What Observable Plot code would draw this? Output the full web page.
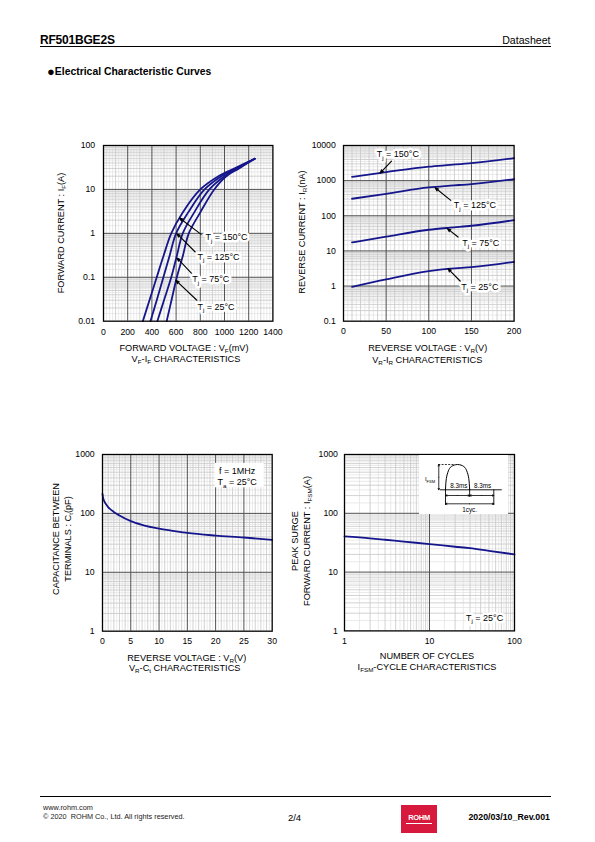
<!DOCTYPE html>
<html><head><meta charset="utf-8">
<script src="https://cdn.jsdelivr.net/npm/d3@7"></script>
<script src="https://cdn.jsdelivr.net/npm/@observablehq/plot@0.6"></script>
<style>
body{margin:0;background:#fff;}
#page{position:relative;width:595px;height:842px;font-family:"Liberation Sans",Arial,sans-serif;color:#000;overflow:hidden;background:#fff;}
.t{position:absolute;white-space:nowrap;line-height:1;}
.c{transform:translate(-50%,-50%);}
.lc{transform:translate(0,-50%);}
.rc{transform:translate(-100%,-50%);}
.rot{transform:translate(-50%,-50%) rotate(-90deg);}
sub{font-size:0.68em;vertical-align:-0.28em;line-height:0;}
.ax{font-size:9.2px;}
</style></head><body><div id="page"></div>
<script>
// ---------------- data ----------------
// VF-IF characteristics (forward current in A, forward voltage in mV per temperature)
const fwdCurrent = [0.01, 0.03, 0.1, 0.3, 1, 3, 10, 20, 30, 50];
const fwdV150 = [325, 380, 440, 495, 560, 655, 800, 950, 1080, 1250];
const fwdV125 = [388, 440, 495, 545, 600, 700, 835, 975, 1095, 1250];
const fwdV75  = [445, 500, 560, 605, 655, 750, 875, 1000, 1110, 1250];
const fwdV25  = [522, 562, 606, 655, 705, 800, 915, 1015, 1120, 1250];
const tempNames = ["150", "125", "75", "25"];
const tempLabels = ["T_{j} = 150°C", "T_{j} = 125°C", "T_{j} = 75°C", "T_{j} = 25°C"];

// VR-IR characteristics (reverse voltage V, reverse current nA)
const revVoltage = [10, 50, 100, 125, 150, 200];
const rev150 = [1280, 1750, 2500, 2800, 3150, 4350];
const rev125 = [305, 420, 640, 720, 800, 1100];
const rev75  = [17.4, 25.5, 40, 46, 52, 75];
const rev25  = [0.95, 1.55, 2.65, 3.15, 3.45, 4.9];

// VR-Ct characteristics (reverse voltage V, capacitance pF)
const capVoltage = [0, 0.1, 0.3, 0.7, 1, 2, 3, 5, 7, 10, 13, 15, 20, 25, 30];
const capValues  = [215, 185, 162, 140, 128, 106, 92, 74, 64, 55, 49.5, 46.5, 42, 39, 35.6];

// IFSM-cycle characteristics
const cycles = [1, 2, 3, 5, 10, 20, 30, 50, 100];
const surgeCurrent = [40.5, 37.5, 35.5, 33, 30, 27, 25.5, 23, 20];

// tick labels
const fwdXTicks = [0, 200, 400, 600, 800, 1000, 1200, 1400];
const fwdYTicks = [0.01, 0.1, 1, 10, 100];
const revXTicks = [0, 50, 100, 150, 200];
const revYTicks = [0.1, 1, 10, 100, 1000, 10000];
const capXTicks = [0, 5, 10, 15, 20, 25, 30];
const capYTicks = [1, 10, 100, 1000];
const cycXTicks = [1, 10, 100];
const surgeYTicks = [1, 10, 100, 1000];

// annotations (data units)
const fwdArrows = [
  {x1: 807, y1: 0.95, x2: 628, y2: 2.23},
  {x1: 758, y1: 0.376, x2: 607, y2: 0.98},
  {x1: 730, y1: 0.121, x2: 607, y2: 0.275},
  {x1: 772, y1: 0.030, x2: 598, y2: 0.085}
];
const fwdLabelX = [842, 776, 733, 776];
const fwdLabelY = [0.81, 0.289, 0.090, 0.0211];

const revArrows = [
  {x1: 56.3, y1: 3584, x2: 42.9, y2: 1633},
  {x1: 125.8, y1: 274, x2: 107.4, y2: 628},
  {x1: 134.3, y1: 24.8, x2: 121.8, y2: 43},
  {x1: 137, y1: 1.37, x2: 122.4, y2: 3.14}
];
const revLabelX = [39, 129.3, 139.1, 138];
const revLabelY = [5548, 197, 17.2, 0.94];

const capNote = ["f = 1MHz", "T_{a} = 25°C"];
const capNoteX = [23.8, 23.8];
const capNoteY = [520, 339];
const capNoteBox = [{x1: 19.9, x2: 28.6, y1: 272, y2: 705}];

const surgeNote = ["T_{j} = 25°C"];

// inset waveform (time ms, relative current)
const pulseT = [0, 0.3, 1.0, 2.0, 4.15, 6.3, 7.3, 8.0, 8.3];
const pulseI = [0, 0.45, 0.75, 0.92, 1, 0.92, 0.75, 0.45, 0];

// ---------------- helpers ----------------
const F = '"Liberation Sans", Arial, sans-serif';
const NAVY = "#16168c";
const MAJ = "#505050", MIN = "#c6c6c6", FINE = "#e4e4e4";
const page = document.getElementById("page");

function linGrid(lo, hi, step, skip) {
  const out = [];
  for (let k = Math.ceil(lo / step); k * step <= hi + 1e-9; k++) {
    const v = +(k * step).toFixed(6);
    if (v <= lo || v >= hi) continue;
    if (skip.some(s => Math.abs(v / s - Math.round(v / s)) < 1e-6)) continue;
    out.push(v);
  }
  return out;
}
function logGrid(lo, hi, mults) {
  const out = [];
  for (let e = Math.floor(Math.log10(lo)); Math.pow(10, e) < hi; e++) {
    for (const m of mults) {
      const v = +(m * Math.pow(10, e)).toPrecision(6);
      if (v > lo && v < hi) out.push(v);
    }
  }
  return out;
}
const LOG_MINOR = [2, 3, 4, 5, 6, 7, 8, 9];
const LOG_FINE = [1.5, 2.5, 3.5, 4.5, 5.5, 6.5, 7.5, 8.5, 9.5];
const LOG_MAJOR = [1];

function gridMarks(g) {
  return [
    Plot.ruleX(g.xFine, {stroke: FINE, strokeWidth: 0.8}),
    Plot.ruleY(g.yFine, {stroke: FINE, strokeWidth: 0.8}),
    Plot.ruleX(g.xMinor, {stroke: MIN, strokeWidth: 0.8}),
    Plot.ruleY(g.yMinor, {stroke: MIN, strokeWidth: 0.8}),
    Plot.ruleX(g.xMajor, {stroke: MAJ, strokeWidth: 1}),
    Plot.ruleY(g.yMajor, {stroke: MAJ, strokeWidth: 1})
  ];
}

function subify(svg) {
  const NS = "http://www.w3.org/2000/svg";
  svg.querySelectorAll("text").forEach(t => {
    const targets = t.querySelector("tspan") ? Array.from(t.querySelectorAll("tspan")) : [t];
    targets.forEach(el => {
      const s = el.textContent;
      if (!s.includes("_{")) return;
      let fs = parseFloat(getComputedStyle(el).fontSize) || 9;
      el.textContent = "";
      const re = /_\{([^}]*)\}/g;
      let last = 0, m, pendingUp = false;
      const add = (txt, sub) => {
        const sp = document.createElementNS(NS, "tspan");
        sp.textContent = txt;
        if (sub) { sp.setAttribute("font-size", (fs * 0.68).toFixed(2)); sp.setAttribute("dy", (fs * 0.28).toFixed(2)); }
        else if (pendingUp) { sp.setAttribute("dy", (-fs * 0.28).toFixed(2)); }
        el.appendChild(sp);
      };
      while ((m = re.exec(s))) {
        if (m.index > last) { add(s.slice(last, m.index), false); pendingUp = false; }
        add(m[1], true); pendingUp = true;
        last = m.index + m[0].length;
      }
      if (last < s.length) add(s.slice(last), false);
    });
  });
}

function chart({frame: [x0, y0, x1, y1], x, y, marks, xPad = 7, yPad = 7.5}) {
  const mL = 45, mR = 15, mT = 10, mB = 22;
  const W = x1 - x0 + mL + mR, H = y1 - y0 + mT + mB;
  const svg = Plot.plot({
    width: W, height: H,
    marginLeft: mL, marginRight: mR, marginTop: mT, marginBottom: mB,
    style: {fontFamily: F, fontSize: "8.7px", background: "transparent", overflow: "visible", color: "#000"},
    x: {...x, tickSize: 0, tickPadding: xPad, label: null, tickFormat: d => String(d)},
    y: {...y, tickSize: 0, tickPadding: yPad, label: null, tickFormat: d => String(d)},
    marks
  });
  svg.style.position = "absolute";
  svg.style.left = (x0 - mL) + "px";
  svg.style.top = (y0 - mT) + "px";
  svg.style.maxWidth = "none";
  page.appendChild(svg);
  subify(svg);
  return svg;
}

function html(cls, left, top, content, extra = "") {
  const d = document.createElement("div");
  d.className = "t " + cls;
  d.style.left = left + "px";
  d.style.top = top + "px";
  if (extra) d.style.cssText += extra;
  d.innerHTML = content;
  page.appendChild(d);
  return d;
}

const curveLine = (data, opts) => Plot.line(data, {stroke: NAVY, strokeWidth: 1.8, ...opts});
const frameMark = Plot.frame({stroke: "#000", strokeWidth: 1.3});
const arrowStyle = {x1: "x1", y1: "y1", x2: "x2", y2: "y2", stroke: "#000", strokeWidth: 1.1, headLength: 5, headAngle: 40};

// ---------------- chart 1: VF-IF ----------------
const fwdSeries = [fwdV150, fwdV125, fwdV75, fwdV25];
const fwdData = fwdSeries.flatMap((arr, k) => arr.map((v, i) => ({v, i: fwdCurrent[i], t: tempNames[k]})));
const fwdLabels = tempLabels.map((s, k) => ({s, x: fwdLabelX[k], y: fwdLabelY[k]}));
chart({
  frame: [103.3, 145, 272.7, 320.7],
  x: {domain: [0, 1400], ticks: fwdXTicks},
  y: {type: "log", domain: [0.01, 100], ticks: fwdYTicks},
  xPad: 8, yPad: 8.3,
  marks: [
    ...gridMarks({
      xFine: linGrid(0, 1400, 25, [100]), xMinor: linGrid(0, 1400, 100, [200]), xMajor: linGrid(0, 1400, 200, []),
      yFine: logGrid(0.01, 100, LOG_FINE), yMinor: logGrid(0.01, 100, LOG_MINOR), yMajor: logGrid(0.01, 100, LOG_MAJOR)
    }),
    curveLine(fwdData, {x: "v", y: "i", z: "t", curve: "catmull-rom"}),
    Plot.arrow(fwdArrows, arrowStyle),
    Plot.text(fwdLabels, {x: "x", y: "y", text: "s", textAnchor: "start", fontSize: 9, fill: "#000", stroke: "white", strokeWidth: 5, paintOrder: "stroke"}),
    frameMark
  ]
});
html("ax c", 184, 348.5, "FORWARD VOLTAGE : V<sub>F</sub>(mV)");
html("ax c", 186, 359.5, "V<sub>F</sub>-I<sub>F</sub> CHARACTERISTICS");
html("ax rot", 62, 233, "FORWARD CURRENT : I<sub>F</sub>(A)");

// ---------------- chart 2: VR-IR ----------------
const revSeries = [rev150, rev125, rev75, rev25];
const revData = revSeries.flatMap((arr, k) => arr.map((c, i) => ({v: revVoltage[i], c, t: tempNames[k]})));
const revLabels = tempLabels.map((s, k) => ({s, x: revLabelX[k], y: revLabelY[k]}));
chart({
  frame: [342.7, 145, 513.3, 320.7],
  x: {domain: [0, 200], ticks: revXTicks},
  y: {type: "log", domain: [0.1, 10000], ticks: revYTicks},
  xPad: 6.5, yPad: 7.7,
  marks: [
    ...gridMarks({
      xFine: linGrid(0, 200, 5, [10]), xMinor: linGrid(0, 200, 10, [50]), xMajor: linGrid(0, 200, 50, []),
      yFine: logGrid(0.1, 10000, LOG_FINE), yMinor: logGrid(0.1, 10000, LOG_MINOR), yMajor: logGrid(0.1, 10000, LOG_MAJOR)
    }),
    curveLine(revData, {x: "v", y: "c", z: "t", curve: "monotone-x"}),
    Plot.arrow(revArrows, arrowStyle),
    Plot.text(revLabels, {x: "x", y: "y", text: "s", textAnchor: "start", fontSize: 9, fill: "#000", stroke: "white", strokeWidth: 5, paintOrder: "stroke"}),
    frameMark
  ]
});
html("ax c", 427.7, 349, "REVERSE VOLTAGE : V<sub>R</sub>(V)");
html("ax c", 427.3, 360.5, "V<sub>R</sub>-I<sub>R</sub> CHARACTERISTICS");
html("ax rot", 302.5, 232, "REVERSE CURRENT : I<sub>R</sub>(nA)");

// ---------------- chart 3: VR-Ct ----------------
const capData = capVoltage.map((v, i) => ({v, c: capValues[i]}));
const capNotes = capNote.map((s, k) => ({s, x: capNoteX[k], y: capNoteY[k]}));
chart({
  frame: [102.3, 454, 272, 630.7],
  x: {domain: [0, 30], ticks: capXTicks},
  y: {type: "log", domain: [1, 1000], ticks: capYTicks},
  xPad: 7, yPad: 7.8,
  marks: [
    ...gridMarks({
      xFine: linGrid(0, 30, 0.5, [1]), xMinor: linGrid(0, 30, 1, [5]), xMajor: linGrid(0, 30, 5, []),
      yFine: logGrid(1, 1000, LOG_FINE), yMinor: logGrid(1, 1000, LOG_MINOR), yMajor: logGrid(1, 1000, LOG_MAJOR)
    }),
    Plot.rect(capNoteBox, {x1: "x1", x2: "x2", y1: "y1", y2: "y2", fill: "white"}),
    curveLine(capData, {x: "v", y: "c", curve: "monotone-x"}),
    Plot.text(capNotes, {x: "x", y: "y", text: "s", textAnchor: "middle", fontSize: 9, fill: "#000"}),
    frameMark
  ]
});
html("ax c", 186.7, 658.5, "REVERSE VOLTAGE : V<sub>R</sub>(V)");
html("ax c", 184.7, 669, "V<sub>R</sub>-C<sub>t</sub> CHARACTERISTICS");
html("ax rot", 56.7, 539, "CAPACITANCE BETWEEN");
html("ax rot", 69.3, 539, "TERMINALS : C<sub>t</sub>(pF)");

// ---------------- chart 4: IFSM-cycle ----------------
const surgeData = cycles.map((n, i) => ({n, a: surgeCurrent[i]}));
chart({
  frame: [344.3, 454.3, 514.3, 630.7],
  x: {type: "log", domain: [1, 100], ticks: cycXTicks},
  y: {type: "log", domain: [1, 1000], ticks: surgeYTicks},
  xPad: 7, yPad: 6.6,
  marks: [
    ...gridMarks({
      xFine: logGrid(1, 100, LOG_FINE), xMinor: logGrid(1, 100, LOG_MINOR), xMajor: logGrid(1, 100, LOG_MAJOR),
      yFine: logGrid(1, 1000, LOG_FINE), yMinor: logGrid(1, 1000, LOG_MINOR), yMajor: logGrid(1, 1000, LOG_MAJOR)
    }),
    curveLine(surgeData, {x: "n", y: "a", curve: "monotone-x"}),
    Plot.text(surgeNote, {x: [73.5], y: [1.66], text: d => d, textAnchor: "end", fontSize: 9, fill: "#000", stroke: "white", strokeWidth: 5, paintOrder: "stroke"}),
    frameMark
  ]
});
html("ax c", 427, 656.5, "NUMBER OF CYCLES");
html("ax c", 427, 667.5, "I<sub>FSM</sub>-CYCLE CHARACTERISTICS");
html("ax rot", 296, 541, "PEAK SURGE");
html("ax rot", 307.5, 541, "FORWARD CURRENT : I<sub>FSM</sub>(A)");

// inset waveform
const pulse = pulseT.map((t, i) => ({t, i: pulseI[i]}));
const half = 8.3, cyc = 16.6;
const inset = Plot.plot({
  width: 89, height: 59, margin: 0,
  x: {domain: [-8.93, 21.65], axis: null},
  y: {domain: [-0.976, 1.356], axis: null},
  style: {fontFamily: F, fontSize: "6.3px", background: "white", overflow: "visible", color: "#000"},
  marks: [
    Plot.ruleY([0], {x1: -1.72, x2: 19.5, stroke: "#000", strokeWidth: 0.9}),
    Plot.line(pulse, {x: "t", y: "i", curve: "natural", stroke: "#000", strokeWidth: 1}),
    Plot.ruleY([1], {x1: -2.3, x2: 3.2, stroke: "#000", strokeWidth: 0.8, strokeDasharray: "2,1.3"}),
    Plot.arrow([{x1: -2.3, y1: 0.5, x2: -2.3, y2: 1}, {x1: -2.3, y1: 0.5, x2: -2.3, y2: 0}],
      {x1: "x1", y1: "y1", x2: "x2", y2: "y2", stroke: "#000", strokeWidth: 0.8, headLength: 3, headAngle: 50}),
    Plot.ruleX([0, cyc], {y1: 0, y2: -0.62, stroke: "#000", strokeWidth: 0.9}),
    Plot.ruleX([half], {y1: 0, y2: -0.3, stroke: "#000", strokeWidth: 0.9}),
    Plot.arrow([
      {x1: half / 2, y1: -0.225, x2: 0, y2: -0.225}, {x1: half / 2, y1: -0.225, x2: half, y2: -0.225},
      {x1: half * 1.5, y1: -0.225, x2: half, y2: -0.225}, {x1: half * 1.5, y1: -0.225, x2: cyc, y2: -0.225},
      {x1: half, y1: -0.553, x2: 0, y2: -0.553}, {x1: half, y1: -0.553, x2: cyc, y2: -0.553}
    ], {x1: "x1", y1: "y1", x2: "x2", y2: "y2", stroke: "#000", strokeWidth: 0.8, headLength: 3, headAngle: 50}),
    Plot.text(["I_{FSM}"], {x: [-5.3], y: [0.42], text: d => d, textAnchor: "middle", fontSize: 6}),
    Plot.text(["8.3ms", "8.3ms"], {x: [half / 2 + 0.4, half * 1.5 + 0.3], y: [0.17, 0.17], text: d => d, textAnchor: "middle", fontSize: 6.3}),
    Plot.text(["1cyc."], {x: [half], y: [-0.8], text: d => d, textAnchor: "middle", fontSize: 6.3})
  ]
});
inset.style.position = "absolute";
inset.style.left = "419px";
inset.style.top = "455px";
inset.style.maxWidth = "none";
page.appendChild(inset);
subify(inset);

// ---------------- header / footer ----------------
html("lc", 40, 40, "RF501BGE2S", "font-weight:bold;font-size:12px;letter-spacing:-0.2px;");
html("rc", 550.5, 39.5, "Datasheet", "font-size:10.6px;");
const hl = document.createElement("div");
hl.style.cssText = "position:absolute;left:40px;top:45.5px;width:511px;height:1px;background:#000;";
page.appendChild(hl);
html("lc", 47, 70.5, "<span style=\"font-size:13px;vertical-align:-1px;\">●</span>Electrical Characteristic Curves", "font-weight:bold;font-size:10.4px;");

const fl = document.createElement("div");
fl.style.cssText = "position:absolute;left:40px;top:796px;width:511px;height:1px;background:#000;";
page.appendChild(fl);
html("lc", 43, 807.5, "www.rohm.com", "font-size:7.3px;color:#222;");
html("lc", 43, 817, "© 2020&nbsp; ROHM Co., Ltd. All rights reserved.", "font-size:7.3px;color:#222;");
html("c", 294.5, 817.5, "2/4", "font-size:9.5px;");
const logo = document.createElement("div");
logo.style.cssText = "position:absolute;left:401px;top:805px;width:36px;height:28px;background:#d7193d;";
page.appendChild(logo);
html("c", 419, 818, "ROHM", "font-size:7.5px;font-weight:bold;color:#fff;letter-spacing:-0.3px;");
const lu = document.createElement("div");
lu.style.cssText = "position:absolute;left:406px;top:823px;width:26px;height:0.8px;background:#fff;";
page.appendChild(lu);
html("rc", 550, 817, "2020/03/10_Rev.001", "font-weight:bold;font-size:8.8px;");
</script>
</body></html>
